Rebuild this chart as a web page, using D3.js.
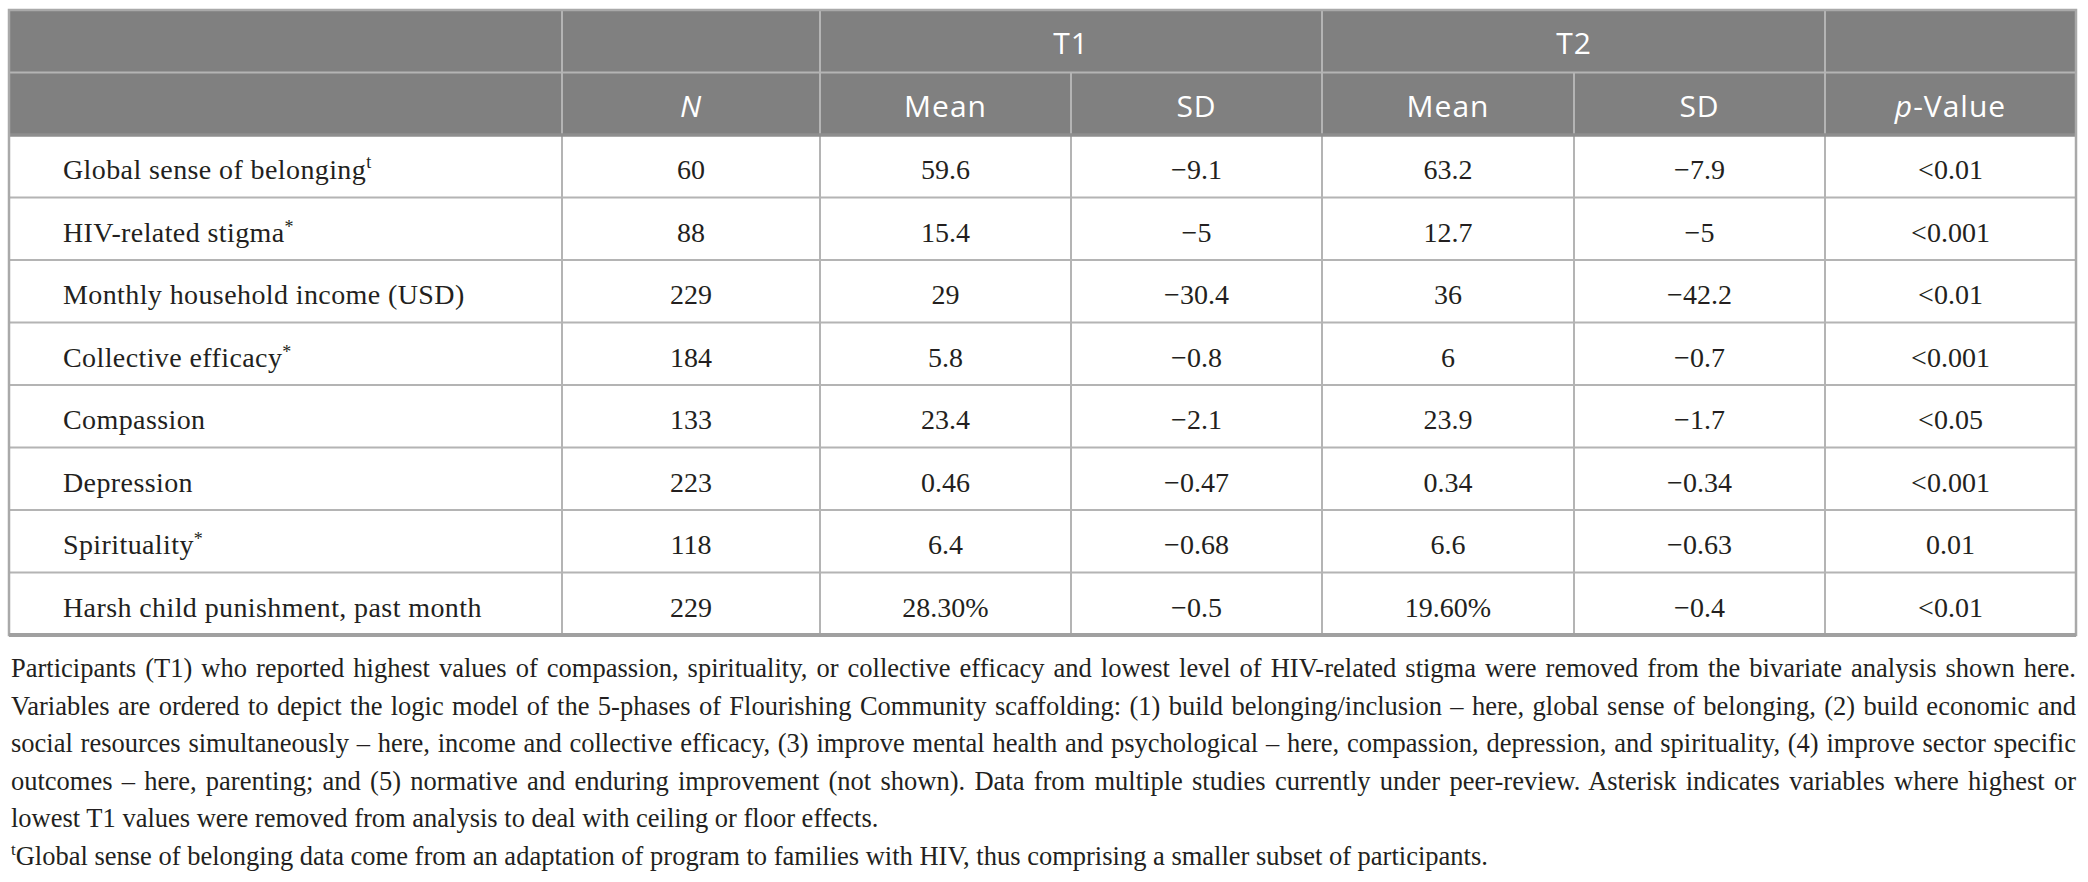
<!DOCTYPE html>
<html>
<head>
<meta charset="utf-8">
<script src="https://d3js.org/d3.v7.min.js"></script>
<style>
  body { margin: 0; background: #fff; }
  svg { display: block; }
</style>
</head>
<body>
<script>
// row labels + their superscript marks
var rowLabels = ["Global sense of belonging", "HIV-related stigma", "Monthly household income (USD)",
  "Collective efficacy", "Compassion", "Depression", "Spirituality", "Harsh child punishment, past month"];
var rowMarks = ["t", "*", "", "*", "", "", "*", ""];

// values, one array per column
var nValues = ["60", "88", "229", "184", "133", "223", "118", "229"];
var t1Mean = ["59.6", "15.4", "29", "5.8", "23.4", "0.46", "6.4", "28.30%"];
var t1SD = ["\u22129.1", "\u22125", "\u221230.4", "\u22120.8", "\u22122.1", "\u22120.47", "\u22120.68", "\u22120.5"];
var t2Mean = ["63.2", "12.7", "36", "6", "23.9", "0.34", "6.6", "19.60%"];
var t2SD = ["\u22127.9", "\u22125", "\u221242.2", "\u22120.7", "\u22121.7", "\u22120.34", "\u22120.63", "\u22120.4"];
var pValues = ["<0.01", "<0.001", "<0.01", "<0.001", "<0.05", "<0.001", "0.01", "<0.01"];

var groupLabels = ["T1", "T2"];
var subHeaders = ["N", "Mean", "SD", "Mean", "SD", "p-Value"];

var footLines = [
  "Participants (T1) who reported highest values of compassion, spirituality, or collective efficacy and lowest level of HIV-related stigma were removed from the bivariate analysis shown here.",
  "Variables are ordered to depict the logic model of the 5-phases of Flourishing Community scaffolding: (1) build belonging/inclusion \u2013 here, global sense of belonging, (2) build economic and",
  "social resources simultaneously \u2013 here, income and collective efficacy, (3) improve mental health and psychological \u2013 here, compassion, depression, and spirituality, (4) improve sector specific",
  "outcomes \u2013 here, parenting; and (5) normative and enduring improvement (not shown). Data from multiple studies currently under peer-review. Asterisk indicates variables where highest or",
  "lowest T1 values were removed from analysis to deal with ceiling or floor effects."
];
var footNote = "Global sense of belonging data come from an adaptation of program to families with HIV, thus comprising a smaller subset of participants.";

var width = 2088, height = 882;
var tblLeft = 9, tblRight = 2076, tblTop = 10, tblBottom = 635;
var colEdges = [562, 820, 1071, 1322, 1574, 1825, 2076];
var headH = 62.5;

var svg = d3.select("body").append("svg")
  .attr("width", width)
  .attr("height", height);

svg.append("rect").attr("width", width).attr("height", height).attr("fill", "#fff");

var columns = [nValues, t1Mean, t1SD, t2Mean, t2SD, pValues];

// rows through a band scale
var y = d3.scaleBand()
  .domain(d3.range(rowLabels.length))
  .range([tblTop + 2 * headH, tblBottom]);

// column edges
var colIdx = d3.range(columns.length);
var xLeft = d3.scaleOrdinal().domain(colIdx).range(colEdges.slice(0, 6));
var xRight = d3.scaleOrdinal().domain(colIdx).range(colEdges.slice(1));
function xMid(i) { return (xLeft(i) + xRight(i)) / 2; }

var serif = "'Liberation Serif', 'Times New Roman', serif";
var sans = "'Open Sans', 'Noto Sans', sans-serif";
var ink = "#231f20";

// header background
svg.append("rect")
  .attr("x", tblLeft).attr("y", tblTop)
  .attr("width", tblRight - tblLeft).attr("height", 2 * headH)
  .attr("fill", "#808080");

var gridCol = "#b4b4b4";
svg.append("line")
  .attr("x1", tblLeft).attr("x2", tblRight)
  .attr("y1", tblTop + headH).attr("y2", tblTop + headH)
  .attr("stroke", gridCol).attr("stroke-width", 2);

// vertical lines in first header row (group borders only)
[0, 1, 3, 5].forEach(function(i) {
  svg.append("line")
    .attr("x1", xLeft(i)).attr("x2", xLeft(i))
    .attr("y1", tblTop).attr("y2", tblTop + headH)
    .attr("stroke", gridCol).attr("stroke-width", 2);
});

// vertical lines from second header row to bottom
colIdx.forEach(function(i) {
  svg.append("line")
    .attr("x1", xLeft(i)).attr("x2", xLeft(i))
    .attr("y1", tblTop + headH).attr("y2", tblBottom)
    .attr("stroke", gridCol).attr("stroke-width", 2);
});

// row separators
svg.selectAll("line.row")
  .data(d3.range(1, rowLabels.length))
  .enter().append("line")
  .attr("class", "row")
  .attr("x1", tblLeft).attr("x2", tblRight)
  .attr("y1", function(d) { return y(d); })
  .attr("y2", function(d) { return y(d); })
  .attr("stroke", gridCol).attr("stroke-width", 2);

// thicker line under header
svg.append("line")
  .attr("x1", tblLeft).attr("x2", tblRight)
  .attr("y1", y(0)).attr("y2", y(0))
  .attr("stroke", "#8e8e8e").attr("stroke-width", 3.5);

// outer border
svg.append("rect")
  .attr("x", tblLeft).attr("y", tblTop)
  .attr("width", tblRight - tblLeft).attr("height", tblBottom - tblTop)
  .attr("fill", "none")
  .attr("stroke", "#a9a9a9").attr("stroke-width", 2.5);
svg.append("line")
  .attr("x1", tblLeft).attr("x2", tblRight)
  .attr("y1", tblBottom).attr("y2", tblBottom)
  .attr("stroke", "#a0a0a0").attr("stroke-width", 4);

// group header texts
var groupCols = [1, 3];
svg.selectAll("text.group")
  .data(groupLabels)
  .enter().append("text")
  .attr("class", "group")
  .attr("x", function(d, i) { return xRight(groupCols[i]); })
  .attr("y", tblTop + 44)
  .attr("text-anchor", "middle")
  .attr("fill", "#fff")
  .style("font-family", sans)
  .style("font-size", "30px")
  .style("letter-spacing", "1px")
  .text(function(d) { return d; });

// sub headers
var sub = svg.selectAll("text.sub")
  .data(subHeaders)
  .enter().append("text")
  .attr("class", "sub")
  .attr("x", function(d, i) { return xMid(i); })
  .attr("y", tblTop + headH + 44)
  .attr("text-anchor", "middle")
  .attr("fill", "#fff")
  .style("font-family", sans)
  .style("font-size", "30px")
  .style("letter-spacing", "1px");
sub.each(function(d) {
  var t = d3.select(this);
  if (d === "N") {
    t.append("tspan").style("font-style", "italic").text("N");
  } else if (d === "p-Value") {
    t.append("tspan").style("font-style", "italic").text("p");
    t.append("tspan").text("-Value");
  } else {
    t.text(d);
  }
});

// row labels
var labels = svg.selectAll("text.label")
  .data(rowLabels)
  .enter().append("text")
  .attr("class", "label")
  .attr("x", 63)
  .attr("y", function(d, i) { return y(i) + 44; })
  .attr("fill", ink)
  .style("font-family", serif)
  .style("font-size", "28px")
  .style("letter-spacing", "0.4px");
labels.append("tspan").text(function(d) { return d; });
labels.append("tspan")
  .attr("dy", function(d, i) { return rowMarks[i] === "t" ? -11 : -9; })
  .style("font-size", "18px")
  .text(function(d, i) { return rowMarks[i]; });

// cell values
columns.forEach(function(vals, ci) {
  svg.selectAll("text.c" + ci)
    .data(vals)
    .enter().append("text")
    .attr("class", "c" + ci)
    .attr("x", xMid(ci))
    .attr("y", function(d, i) { return y(i) + 44; })
    .attr("text-anchor", "middle")
    .attr("fill", ink)
    .style("font-family", serif)
    .style("font-size", "28px")
    .text(function(d) { return d; });
});

// footnote, justified lines
var footY = d3.scaleLinear().domain([0, 1]).range([677, 714.5]);
var textW = tblRight - 11;
footLines.forEach(function(line, i) {
  var t = svg.append("text")
    .attr("x", 11)
    .attr("y", footY(i))
    .attr("fill", ink)
    .style("font-family", serif)
    .style("font-size", "26.5px")
    .text(line);
  if (i < footLines.length - 1) {
    var w = t.node().getComputedTextLength();
    var spaces = line.split(" ").length - 1;
    t.style("word-spacing", ((textW - w) / spaces) + "px");
  }
});

var last = svg.append("text")
  .attr("x", 11)
  .attr("y", footY(footLines.length))
  .attr("fill", ink)
  .style("font-family", serif)
  .style("font-size", "26.5px");
last.append("tspan").attr("dy", -10).style("font-size", "17px").text("t");
last.append("tspan").attr("dy", 10).text(footNote);
</script>
</body>
</html>
